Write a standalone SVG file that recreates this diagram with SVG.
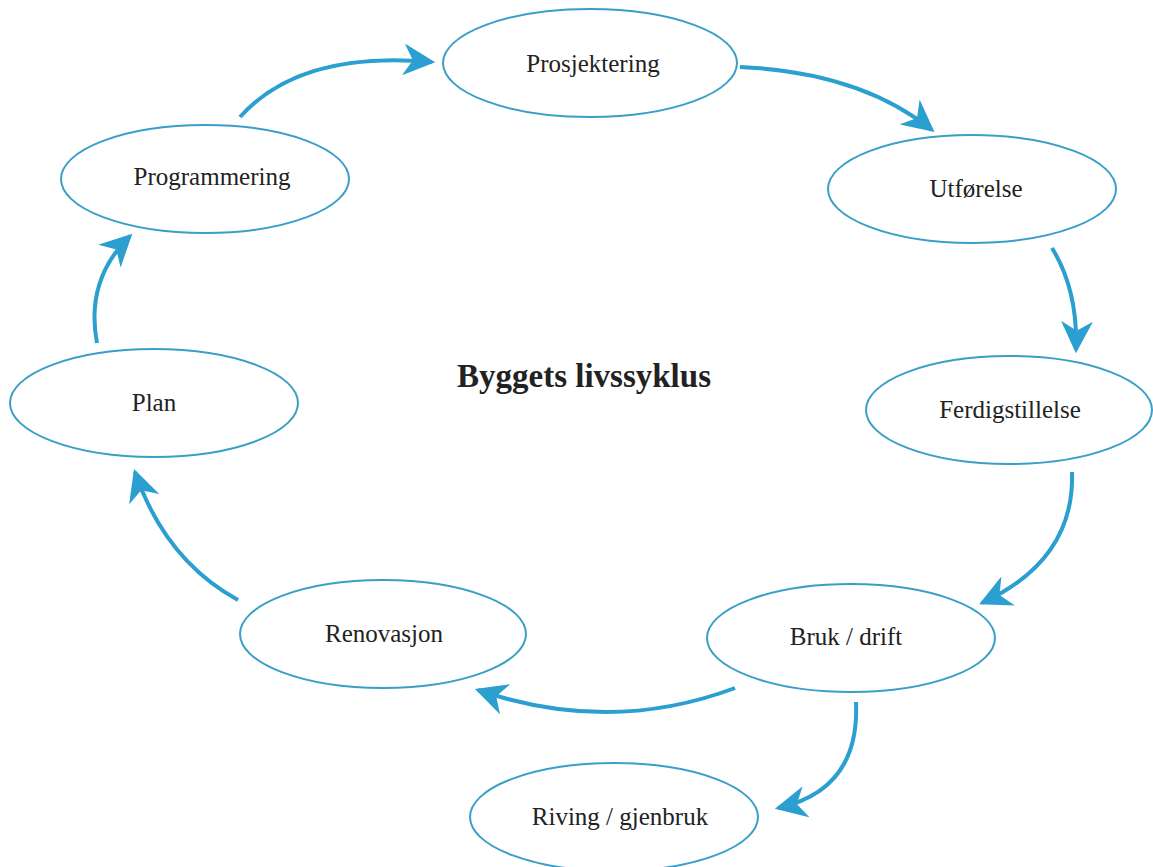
<svg xmlns="http://www.w3.org/2000/svg" width="1153" height="867" viewBox="0 0 1153 867">
<style>
.node ellipse{fill:#fff;stroke:#3a9fc6;stroke-width:2}
.node text{font-family:"Liberation Serif","Times New Roman",serif;font-size:25px;fill:#222;text-anchor:middle}
.conn path{fill:none;stroke:#2b9fcf;stroke-width:4;marker-end:url(#ah)}
.title{font-family:"Liberation Serif","Times New Roman",serif;font-size:33px;font-weight:bold;fill:#222;text-anchor:middle}
</style>
<defs>
<marker id="ah" viewBox="0 0 10 10" refX="9" refY="5" markerWidth="8" markerHeight="8" orient="auto" markerUnits="strokeWidth">
<path d="M0,0 L10,5 L0,10 L3,5 z" fill="#2b9fcf"/>
</marker>
</defs>
<rect width="1153" height="867" fill="#fff"/>
<g id="connectors" class="conn">
<path d="M240,117 Q300,50 432,62"/>
<path d="M740,67 Q860,72 932,130"/>
<path d="M1052,248 Q1078,290 1076,350"/>
<path d="M1072,472 Q1075,560 982,603"/>
<path d="M735,688 Q610,735 478,690"/>
<path d="M856,702 Q860,790 778,808"/>
<path d="M238,600 Q165,560 135,472"/>
<path d="M97,343 Q85,280 130,236"/>
</g>
<g id="prosjektering" class="node"><ellipse cx="590" cy="63" rx="147" ry="54"/><text x="593" y="72">Prosjektering</text></g>
<g id="utforelse" class="node"><ellipse cx="972" cy="189" rx="144" ry="54"/><text x="976" y="197">Utførelse</text></g>
<g id="programmering" class="node"><ellipse cx="205" cy="179" rx="144" ry="54"/><text x="212" y="185">Programmering</text></g>
<g id="plan" class="node"><ellipse cx="154" cy="403" rx="144" ry="54"/><text x="154" y="411">Plan</text></g>
<g id="ferdigstillelse" class="node"><ellipse cx="1009" cy="410" rx="143" ry="54"/><text x="1010" y="418">Ferdigstillelse</text></g>
<g id="renovasjon" class="node"><ellipse cx="383" cy="634" rx="143" ry="54"/><text x="384" y="642">Renovasjon</text></g>
<g id="bruk" class="node"><ellipse cx="851" cy="638" rx="144" ry="54"/><text x="846" y="645">Bruk / drift</text></g>
<g id="riving" class="node"><ellipse cx="614" cy="817" rx="144" ry="54"/><text x="620" y="825">Riving / gjenbruk</text></g>
<text class="title" x="584" y="387">Byggets livssyklus</text>
</svg>
